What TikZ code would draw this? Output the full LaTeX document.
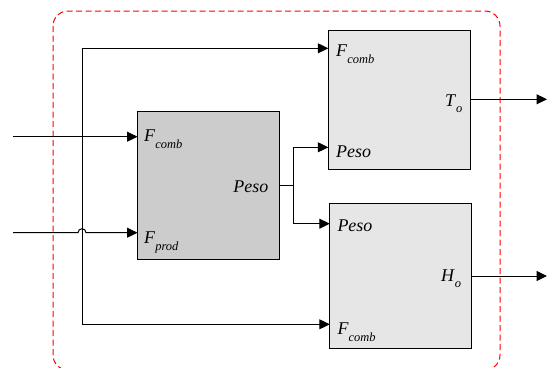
\documentclass[tikz,border=0pt]{standalone}
\usepackage{fontspec}
\setmainfont{Liberation Serif}
\usetikzlibrary{arrows.meta}
\newcommand\lblsub[3]{\textit{#1}\raisebox{-#3}{\fontsize{12.5}{12.5}\selectfont\textit{#2}}}
\begin{document}
\begin{tikzpicture}[x=1bp,y=-1bp,
  blockbox/.style={draw=black,line width=1bp,minimum width=#1,inner sep=0pt,outer sep=0pt},
  wire/.style={line width=1bp,draw=black},
  arr/.style={wire,-{Triangle[length=10.5bp,width=10bp]}},
  lbl/.style={inner sep=0pt,font=\fontsize{18}{18}\selectfont}]
\useasboundingbox (0,0) rectangle (547,367);
\clip (0,0) rectangle (547,367);
% frame
\draw[red,line width=1bp,dash pattern=on 6bp off 3.5bp,rounded corners=15bp] (53,11) rectangle (500,370);
% blocks
\node[blockbox=142bp,minimum height=147.6bp,fill={rgb,255:red,204;green,204;blue,204}] (G) at (208.5,185.5) {};
\node[blockbox=142bp,minimum height=138.7bp,fill={rgb,255:red,230;green,230;blue,230}] (T) at (399.3,100.3) {};
\node[blockbox=142bp,minimum height=145.3bp,fill={rgb,255:red,230;green,230;blue,230}] (H) at (400.8,275.7) {};
% coordinates
\coordinate (inC) at (13,136.7);
\coordinate (inP) at (13,232.7);
\coordinate (vTop) at (82,48.3);
\coordinate (vBot) at (82,324.3);
\coordinate (J) at (293,185);
\coordinate (outT) at (547,99.3);
\coordinate (outH) at (547,276);
% inputs
\draw[arr] (inC) -- (G.west |- inC);
\draw[arr] (inP) -- (78,232.7) arc[start angle=180,end angle=360,radius=4] -- (G.west |- inP);
% bypass F_comb
\draw[arr] (vBot) -- (vTop) -- (T.west |- vTop);
\draw[arr] (vTop |- vBot) -- (H.west |- vBot);
% Peso
\draw[wire] (G.east |- J) -- (J);
\draw[arr] (J) -- (293,147.3) -- (T.west |- 0,147.3);
\draw[arr] (J) -- (293,223.7) -- (H.west |- 0,223.7);
% outputs
\draw[arr] (T.east |- outT) -- (outT);
\draw[arr] (H.east |- outH) -- (outH);
% labels
\node[lbl,anchor=base west] at (144,141) {\lblsub{F}{comb}{7bp}};
\node[lbl,anchor=base east] at (268.5,192) {\textit{Peso}};
\node[lbl,anchor=base west] at (144,243.3) {\lblsub{F}{prod}{7bp}};
\node[lbl,anchor=base west] at (336,56) {\lblsub{F}{comb}{7bp}};
\node[lbl,anchor=base west] at (445,106.7) {\lblsub{T}{o}{5.5bp}};
\node[lbl,anchor=base west] at (336,157.3) {\textit{Peso}};
\node[lbl,anchor=base west] at (337.3,231.7) {\textit{Peso}};
\node[lbl,anchor=base west] at (441,281.7) {\lblsub{H}{o}{5.5bp}};
\node[lbl,anchor=base west] at (337.3,334) {\lblsub{F}{comb}{7bp}};
\end{tikzpicture}
\end{document}
